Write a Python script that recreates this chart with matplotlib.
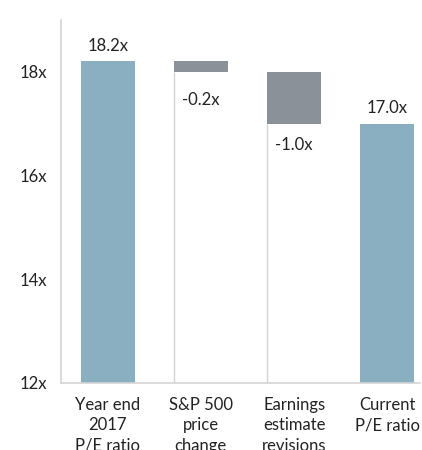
import numpy as np
import matplotlib
matplotlib.use("Agg")
import matplotlib.pyplot as plt

plt.rcParams["font.family"] = ["Lato", "DejaVu Sans"]

categories = ["Year end\n2017\nP/E ratio", "S&P 500\nprice\nchange",
              "Earnings\nestimate\nrevisions", "Current\nP/E ratio"]
values = [18.2, -0.2, -1.0, 17.0]
labels = ["18.2x", "-0.2x", "-1.0x", "17.0x"]
is_total = [True, False, False, True]
label_offsets = [11, -20, -15, 11]  # points

blue = "#8aafc0"
grey = "#8a9199"
axis_grey = "#d4d4d4"
ymin = 12

fig = plt.figure(figsize=(4.22, 4.5), dpi=100)
ax = fig.add_axes([61 / 422, 67 / 450, 359 / 422, 363 / 450])

x = np.arange(len(values))
w = 0.58
running = 0
for i, v in enumerate(values):
    if is_total[i]:
        ax.bar(x[i], v - ymin, bottom=ymin, width=w, color=blue, zorder=2)
        y_lab = v
        running = v
    else:
        top = running
        bottom = running + v
        ax.bar(x[i], top - bottom, bottom=bottom, width=w, color=grey, zorder=2)
        # faint outline of the invisible base bar
        ax.vlines(x[i] - w / 2, ymin, bottom, color=axis_grey, lw=1, zorder=1)
        y_lab = bottom
        running = bottom
    ax.annotate(labels[i], (x[i], y_lab), xytext=(0, label_offsets[i]),
                textcoords="offset points", ha="center", va="center",
                fontsize=12, color="#222222")

ax.set_ylim(12, 19)
ax.set_xlim(-0.5, 3.35)
ax.set_yticks([12, 14, 16, 18])
ax.set_yticklabels(["12x", "14x", "16x", "18x"])
ax.set_xticks(x)
ax.set_xticklabels(categories, linespacing=1.35)
ax.tick_params(axis="both", length=0, labelsize=12, colors="#222222")
ax.tick_params(axis="y", pad=10)
ax.tick_params(axis="x", pad=10)

for s in ["top", "right"]:
    ax.spines[s].set_visible(False)
for s in ["left", "bottom"]:
    ax.spines[s].set_color(axis_grey)
    ax.spines[s].set_linewidth(1.2)

fig.savefig("out.png", dpi=100)
